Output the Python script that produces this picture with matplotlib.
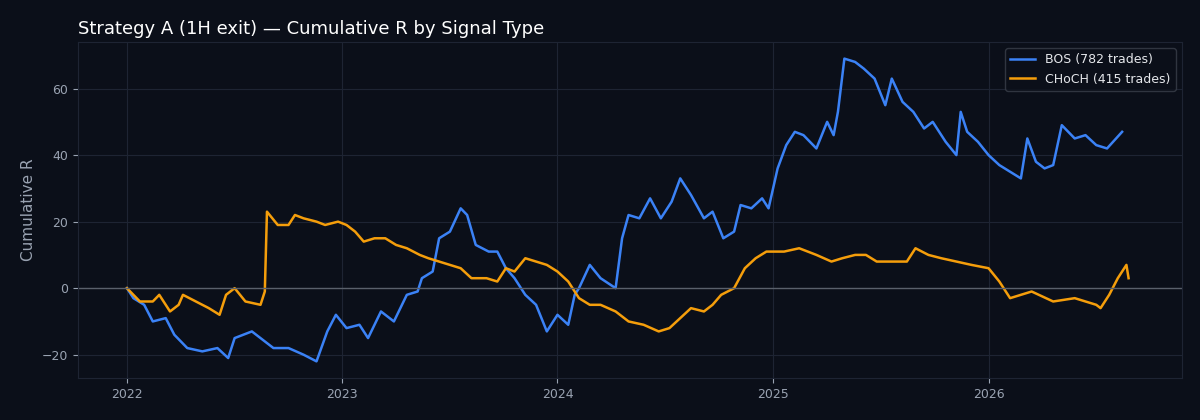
import matplotlib
matplotlib.use("Agg")
import matplotlib.pyplot as plt
import numpy as np
import pandas as pd

# values (time in fractional years, cumulative R)
bos_t = [2022.00, 2022.03, 2022.08, 2022.12, 2022.18, 2022.22, 2022.28, 2022.35, 2022.42, 2022.47,
         2022.50, 2022.58, 2022.62, 2022.68, 2022.75, 2022.82, 2022.88, 2022.93, 2022.97, 2023.02,
         2023.08, 2023.12, 2023.18, 2023.24, 2023.30, 2023.35, 2023.37, 2023.42, 2023.45, 2023.50,
         2023.55, 2023.58, 2023.62, 2023.68, 2023.72, 2023.76, 2023.80, 2023.85, 2023.90, 2023.95,
         2024.00, 2024.05, 2024.08, 2024.10, 2024.15, 2024.20, 2024.27, 2024.30, 2024.33, 2024.38,
         2024.43, 2024.48, 2024.53, 2024.57, 2024.62, 2024.68, 2024.72, 2024.77, 2024.82, 2024.85,
         2024.90, 2024.95, 2024.98, 2025.02, 2025.06, 2025.10, 2025.14, 2025.20, 2025.25, 2025.28,
         2025.30, 2025.33, 2025.38, 2025.42, 2025.47, 2025.52, 2025.55, 2025.60, 2025.65, 2025.70,
         2025.74, 2025.80, 2025.85, 2025.87, 2025.90, 2025.95, 2026.00, 2026.05, 2026.10, 2026.15,
         2026.18, 2026.22, 2026.26, 2026.30, 2026.34, 2026.40, 2026.45, 2026.50, 2026.55, 2026.62]
bos_r = [0, -3, -5, -10, -9, -14, -18, -19, -18, -21,
         -15, -13, -15, -18, -18, -20, -22, -13, -8, -12,
         -11, -15, -7, -10, -2, -1, 3, 5, 15, 17,
         24, 22, 13, 11, 11, 6, 3, -2, -5, -13,
         -8, -11, -2, 0, 7, 3, 0, 15, 22, 21,
         27, 21, 26, 33, 28, 21, 23, 15, 17, 25,
         24, 27, 24, 36, 43, 47, 46, 42, 50, 46,
         53, 69, 68, 66, 63, 55, 63, 56, 53, 48,
         50, 44, 40, 53, 47, 44, 40, 37, 35, 33,
         45, 38, 36, 37, 49, 45, 46, 43, 42, 47]

choch_t = [2022.00, 2022.06, 2022.12, 2022.15, 2022.20, 2022.24, 2022.26, 2022.32, 2022.38, 2022.43,
           2022.46, 2022.50, 2022.55, 2022.62, 2022.64, 2022.65, 2022.70, 2022.75, 2022.78, 2022.82,
           2022.88, 2022.92, 2022.98, 2023.02, 2023.06, 2023.10, 2023.15, 2023.20, 2023.25, 2023.30,
           2023.36, 2023.40, 2023.45, 2023.50, 2023.55, 2023.60, 2023.67, 2023.72, 2023.76, 2023.80,
           2023.85, 2023.90, 2023.95, 2024.00, 2024.05, 2024.10, 2024.15, 2024.20, 2024.27, 2024.33,
           2024.40, 2024.47, 2024.52, 2024.57, 2024.62, 2024.68, 2024.72, 2024.76, 2024.82, 2024.87,
           2024.92, 2024.97, 2025.05, 2025.12, 2025.20, 2025.27, 2025.32, 2025.38, 2025.43, 2025.48,
           2025.55, 2025.62, 2025.66, 2025.72, 2025.78, 2025.85, 2025.92, 2026.00, 2026.05, 2026.10,
           2026.20, 2026.30, 2026.40, 2026.50, 2026.52, 2026.56, 2026.60, 2026.62, 2026.64, 2026.65]
choch_r = [0, -4, -4, -2, -7, -5, -2, -4, -6, -8,
           -2, 0, -4, -5, -1, 23, 19, 19, 22, 21,
           20, 19, 20, 19, 17, 14, 15, 15, 13, 12,
           10, 9, 8, 7, 6, 3, 3, 2, 6, 5,
           9, 8, 7, 5, 2, -3, -5, -5, -7, -10,
           -11, -13, -12, -9, -6, -7, -5, -2, 0, 6,
           9, 11, 11, 12, 10, 8, 9, 10, 10, 8,
           8, 8, 12, 10, 9, 8, 7, 6, 2, -3,
           -1, -4, -3, -5, -6, -2, 3, 5, 7, 3]


def to_dates(ts):
    return [pd.Timestamp(int(t), 1, 1) + pd.Timedelta(days=(t - int(t)) * 365.25) for t in ts]


bg = "#0b0f19"
grid_c = "#1e2433"
text_c = "#9aa3b2"

fig, ax = plt.subplots(figsize=(12, 4.2), dpi=100)
fig.patch.set_facecolor(bg)
ax.set_facecolor(bg)

ax.plot(to_dates(bos_t), bos_r, color="#3b82f6", lw=1.8, label="BOS (782 trades)")
ax.plot(to_dates(choch_t), choch_r, color="#f59e0b", lw=1.8, label="CHoCH (415 trades)")
ax.axhline(0, color="#5a606b", lw=1)

ax.grid(True, color=grid_c, lw=0.8)
ax.set_axisbelow(True)
for s in ax.spines.values():
    s.set_color(grid_c)
ax.tick_params(colors=text_c, labelsize=9)
ax.set_ylabel("Cumulative R", color=text_c, fontsize=11)
ax.set_ylim(-27, 74)
ax.set_xlim(pd.Timestamp(2021, 10, 10), pd.Timestamp(2026, 11, 25))
ax.set_title("Strategy A (1H exit) — Cumulative R by Signal Type", loc="left",
             color="white", fontsize=13)

leg = ax.legend(loc="upper right", facecolor=bg, edgecolor="#3a3f4a", fontsize=9)
for t in leg.get_texts():
    t.set_color("#e5e7eb")

plt.subplots_adjust(left=0.065, right=0.985, top=0.9, bottom=0.1)
plt.savefig("out.png", facecolor=bg)
